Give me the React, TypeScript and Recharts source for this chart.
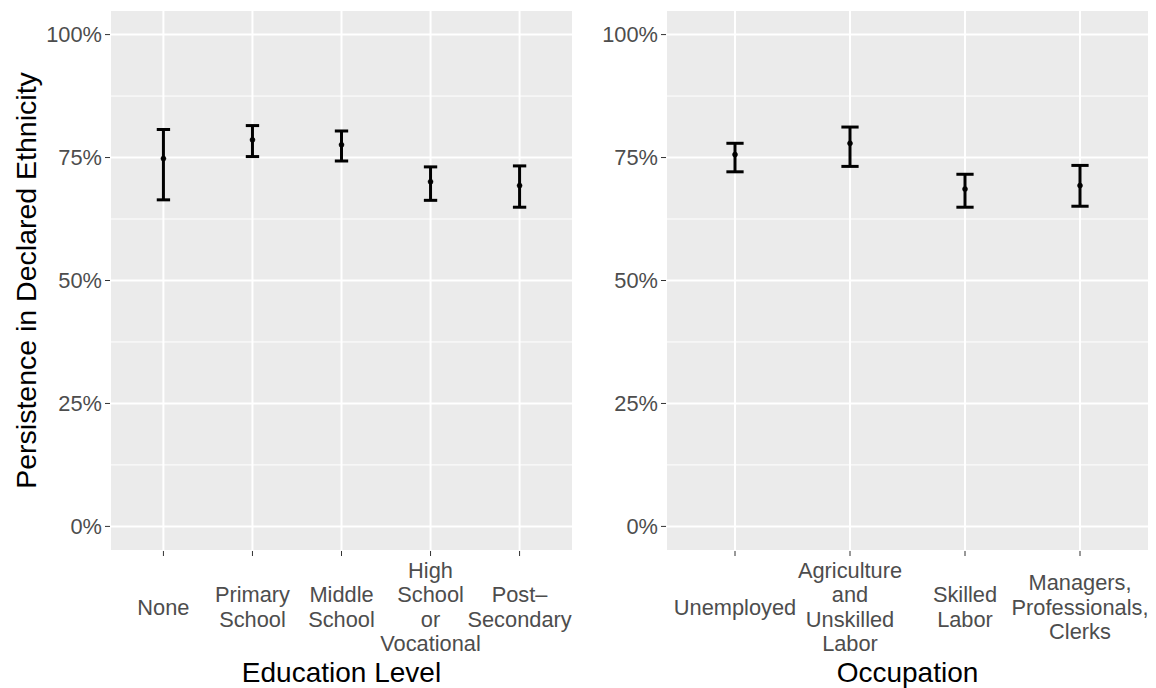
import React from 'react';
import { ComposedChart, Line, ErrorBar, XAxis, YAxis, CartesianGrid, ReferenceLine, Label } from 'recharts';

// Education panel
const eduLevels = ['None', 'Primary\nSchool', 'Middle\nSchool', 'High\nSchool\nor\nVocational', 'Post–\nSecondary'];
const eduMean = [74.8, 78.6, 77.6, 70.1, 69.3];
const eduLower = [66.4, 75.2, 74.3, 66.3, 64.9];
const eduUpper = [80.7, 81.5, 80.4, 73.1, 73.3];

// Occupation panel
const occLevels = ['Unemployed', 'Agriculture\nand\nUnskilled\nLabor', 'Skilled\nLabor', 'Managers,\nProfessionals,\nClerks'];
const occMean = [75.6, 77.9, 68.6, 69.3];
const occLower = [72.1, 73.2, 64.9, 65.1];
const occUpper = [77.9, 81.2, 71.6, 73.4];

const yTicks = [0, 25, 50, 75, 100];
const yMinor = [12.5, 37.5, 62.5, 87.5];

const FONT = '"Liberation Sans", Arial, Helvetica, sans-serif';
const H = 688;
const TOP = 10;
const BOTTOM_AXIS = 137;

function MultiTick(props: any) {
    const { x, y, payload } = props;
    const lines = String(payload.value).split('\n');
    const lh = 24.5;
    const cy = y + 49;
    return (
        <text x={x} y={cy} textAnchor="middle" fill="#4D4D4D" fontSize={21.8} fontFamily={FONT}>
            {lines.map((l, i) => (
                <tspan key={i} x={x} y={cy + (i - (lines.length - 1) / 2) * lh} dy="0.355em">
                    {l}
                </tspan>
            ))}
        </text>
    );
}

interface PanelProps {
    width: number;
    yAxisWidth: number;
    levels: string[];
    mean: number[];
    lower: number[];
    upper: number[];
    xTitle: string;
    yTitle?: string;
}

function Panel({ width, yAxisWidth, levels, mean, lower, upper, xTitle, yTitle }: PanelProps) {
    const right = 7;
    const plotW = width - yAxisWidth - right;
    // ggplot discrete expansion: 0.6 of a step on each side (point scale)
    const step = plotW / (levels.length - 1 + 1.2);
    const pad = step * 0.6;
    const capHalf = step * 0.075;

    const rows = levels.map((name, i) => ({
        name,
        mean: mean[i],
        err: [mean[i] - lower[i], upper[i] - mean[i]],
    }));

    return (
        <ComposedChart width={width} height={H} data={rows} margin={{ top: TOP, right, bottom: 0, left: 0 }}>
            <CartesianGrid fill="#EBEBEB" stroke="#FFFFFF" strokeWidth={2} />
            {yMinor.map((v) => (
                <ReferenceLine key={v} y={v} stroke="#FFFFFF" strokeWidth={1} />
            ))}
            <XAxis
                dataKey="name"
                type="category"
                height={BOTTOM_AXIS}
                interval={0}
                axisLine={false}
                tickSize={5}
                tickLine={{ stroke: '#333333', strokeWidth: 1 }}
                padding={{ left: pad, right: pad }}
                tick={<MultiTick />}
            >
                <Label
                    content={(p: any) => {
                        const vb = p.viewBox;
                        return (
                            <text
                                x={vb.x + vb.width / 2}
                                y={H - 6}
                                textAnchor="middle"
                                fontSize={28}
                                fill="#000000"
                                fontFamily={FONT}
                            >
                                {xTitle}
                            </text>
                        );
                    }}
                />
            </XAxis>
            <YAxis
                type="number"
                domain={[-5, 105]}
                ticks={yTicks}
                allowDataOverflow
                width={yAxisWidth}
                axisLine={false}
                tickSize={5}
                tickMargin={3}
                tickLine={{ stroke: '#333333', strokeWidth: 1 }}
                tickFormatter={(v) => `${v}%`}
                tick={{ fill: '#4D4D4D', fontSize: 21.8, fontFamily: FONT }}
            >
                {yTitle && (
                    <Label
                        content={(p: any) => {
                            const vb = p.viewBox;
                            const cx = 35.5;
                            const cy = vb.y + vb.height / 2;
                            return (
                                <text
                                    x={cx}
                                    y={cy}
                                    transform={`rotate(-90 ${cx} ${cy})`}
                                    textAnchor="middle"
                                    fontSize={28.5}
                                    fill="#000000"
                                    fontFamily={FONT}
                                >
                                    {yTitle}
                                </text>
                            );
                        }}
                    />
                )}
            </YAxis>
            <Line
                dataKey="mean"
                stroke="none"
                isAnimationActive={false}
                activeDot={false}
                dot={{ r: 2.5, fill: '#000000', stroke: '#000000', strokeWidth: 0.5 }}
            >
                <ErrorBar dataKey="err" direction="y" width={capHalf} stroke="#000000" strokeWidth={3} isAnimationActive={false} />
            </Line>
        </ComposedChart>
    );
}

export default function App() {
    return (
        <div style={{ position: 'absolute', left: 0, top: 0, width: 1156, height: H, background: '#FFFFFF', display: 'flex' }}>
            <Panel
                width={580}
                yAxisWidth={110}
                levels={eduLevels}
                mean={eduMean}
                lower={eduLower}
                upper={eduUpper}
                xTitle="Education Level"
                yTitle="Persistence in Declared Ethnicity"
            />
            <Panel
                width={576}
                yAxisWidth={86}
                levels={occLevels}
                mean={occMean}
                lower={occLower}
                upper={occUpper}
                xTitle="Occupation"
            />
        </div>
    );
}
